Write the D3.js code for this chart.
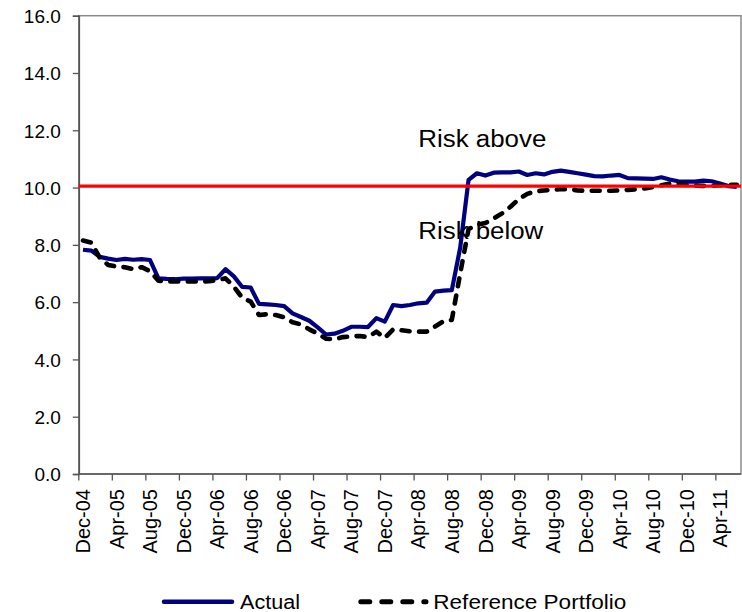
<!DOCTYPE html>
<html>
<head>
<meta charset="utf-8">
<script src="https://cdn.jsdelivr.net/npm/d3@7/dist/d3.min.js"></script>
<style>
  html, body { margin: 0; padding: 0; background: #fff; }
  svg { display: block; }
  text { font-family: "Liberation Sans", Arial, sans-serif; fill: #000; }
</style>
</head>
<body>
<svg id="chart" width="742" height="612"></svg>
<script>
// ---- data ----
const months = [
  "Dec-04","Jan-05","Feb-05","Mar-05","Apr-05","May-05","Jun-05","Jul-05","Aug-05","Sep-05","Oct-05","Nov-05",
  "Dec-05","Jan-06","Feb-06","Mar-06","Apr-06","May-06","Jun-06","Jul-06","Aug-06","Sep-06","Oct-06","Nov-06",
  "Dec-06","Jan-07","Feb-07","Mar-07","Apr-07","May-07","Jun-07","Jul-07","Aug-07","Sep-07","Oct-07","Nov-07",
  "Dec-07","Jan-08","Feb-08","Mar-08","Apr-08","May-08","Jun-08","Jul-08","Aug-08","Sep-08","Oct-08","Nov-08",
  "Dec-08","Jan-09","Feb-09","Mar-09","Apr-09","May-09","Jun-09","Jul-09","Aug-09","Sep-09","Oct-09","Nov-09",
  "Dec-09","Jan-10","Feb-10","Mar-10","Apr-10","May-10","Jun-10","Jul-10","Aug-10","Sep-10","Oct-10","Nov-10",
  "Dec-10","Jan-11","Feb-11","Mar-11","Apr-11","May-11","Jun-11"
];
const actual = [
  7.83, 7.80, 7.58, 7.52, 7.47, 7.51, 7.48, 7.50, 7.47, 6.83, 6.81, 6.80,
  6.82, 6.82, 6.83, 6.83, 6.84, 7.15, 6.90, 6.53, 6.51, 5.94, 5.92, 5.90,
  5.86, 5.61, 5.48, 5.35, 5.12, 4.87, 4.90, 5.00, 5.14, 5.14, 5.13, 5.44,
  5.32, 5.90, 5.86, 5.90, 5.96, 5.98, 6.37, 6.40, 6.42, 7.90, 10.27, 10.50,
  10.42, 10.52, 10.53, 10.53, 10.56, 10.44, 10.50, 10.46, 10.55, 10.59, 10.55, 10.50,
  10.45, 10.40, 10.39, 10.42, 10.44, 10.33, 10.32, 10.31, 10.30, 10.36, 10.28, 10.22,
  10.21, 10.21, 10.24, 10.22, 10.14, 10.05, 10.02
];
const reference = [
  8.15, 8.08, 7.55, 7.30, 7.24, 7.22, 7.15, 7.22, 7.08, 6.75, 6.72, 6.72,
  6.72, 6.72, 6.72, 6.73, 6.77, 6.83, 6.54, 6.15, 6.02, 5.55, 5.58, 5.55,
  5.47, 5.30, 5.22, 5.05, 4.90, 4.72, 4.70, 4.78, 4.80, 4.82, 4.78, 4.97,
  4.75, 5.05, 5.02, 4.98, 4.97, 4.97, 5.15, 5.33, 5.38, 7.00, 8.55, 8.70,
  8.76, 8.92, 9.10, 9.33, 9.60, 9.78, 9.87, 9.90, 9.92, 9.94, 9.95, 9.90,
  9.89, 9.89, 9.89, 9.89, 9.90, 9.92, 9.94, 9.97, 10.02, 10.08, 10.14, 10.12,
  10.09, 10.07, 10.06, 10.06, 10.08, 10.10, 10.10
];
const threshold = 10.05;
const tickLabels = ["Dec-04","Apr-05","Aug-05","Dec-05","Apr-06","Aug-06","Dec-06","Apr-07","Aug-07","Dec-07",
  "Apr-08","Aug-08","Dec-08","Apr-09","Aug-09","Dec-09","Apr-10","Aug-10","Dec-10","Apr-11"];
const yTicks = [0, 2, 4, 6, 8, 10, 12, 14, 16];
const seriesNames = ["Actual", "Reference Portfolio"];
const annotations = ["Risk above", "Risk below"];

(function () {
// ---- layout ----
const svg = d3.select("#chart");
const pLeft = 78.8, pRight = 741, pTop = 15.7, pBottom = 474;

const x = d3.scaleBand().domain(months).range([pLeft, pRight]).paddingInner(0).paddingOuter(0);
const cx = d => x(d) + x.bandwidth() / 2;
const y = d3.scaleLinear().domain([0, 16]).range([pBottom, pTop]);

// plot border
svg.append("rect")
  .attr("x", pLeft).attr("y", pTop)
  .attr("width", pRight - pLeft).attr("height", pBottom - pTop)
  .attr("fill", "none").attr("stroke", "#8a8a8a").attr("stroke-width", 1.5);

// y axis
const yAxis = d3.axisLeft(y).tickValues(yTicks).tickFormat(d3.format(".1f")).tickSize(6).tickPadding(12);
const gy = svg.append("g").attr("transform", `translate(${pLeft},0)`).call(yAxis);
gy.select(".domain").attr("stroke", "#555").attr("stroke-width", 1.6);
gy.selectAll(".tick line").attr("stroke", "#555").attr("stroke-width", 1.3);
gy.selectAll(".tick text")
  .attr("font-size", 19).attr("font-family", '"Liberation Sans", Arial, sans-serif')
  .attr("fill", "#000").attr("dy", "0.36em");

// x axis: ticks at band starts for labelled months
const gx = svg.append("g").attr("class", "xaxis");
gx.append("line")
  .attr("x1", pLeft).attr("x2", pRight).attr("y1", pBottom).attr("y2", pBottom)
  .attr("stroke", "#555").attr("stroke-width", 1.6);
gx.selectAll("line.tk").data(tickLabels).join("line")
  .attr("class", "tk")
  .attr("x1", d => x(d)).attr("x2", d => x(d))
  .attr("y1", pBottom).attr("y2", pBottom + 6.5)
  .attr("stroke", "#555").attr("stroke-width", 1.3);
gx.selectAll("text").data(tickLabels).join("text")
  .attr("transform", d => `translate(${cx(d)},${pBottom + 15}) rotate(-90)`)
  .attr("text-anchor", "end")
  .attr("dy", "0.36em")
  .attr("font-size", 20)
  .text(d => d);

// lines
const line = d3.line().x((d, i) => cx(months[i])).y(d => y(d));

svg.append("path").datum(actual)
  .attr("d", line)
  .attr("fill", "none").attr("stroke", "#000080").attr("stroke-width", 4.2)
  .attr("stroke-linejoin", "round");

svg.append("path").datum(reference)
  .attr("d", line)
  .attr("fill", "none").attr("stroke", "#000").attr("stroke-width", 4.6)
  .attr("stroke-dasharray", "8,9.5").attr("stroke-linecap", "round")
  .attr("stroke-linejoin", "round");

// threshold line
svg.append("line")
  .attr("x1", pLeft).attr("x2", pRight)
  .attr("y1", y(threshold)).attr("y2", y(threshold))
  .attr("stroke", "#ff0000").attr("stroke-width", 3.2);

// annotations
svg.append("text").attr("x", 418.3).attr("y", 147.3)
  .attr("font-size", 23).attr("textLength", 128).attr("lengthAdjust", "spacingAndGlyphs")
  .text(annotations[0]);
svg.append("text").attr("x", 418.3).attr("y", 239.3)
  .attr("font-size", 23).attr("textLength", 125).attr("lengthAdjust", "spacingAndGlyphs")
  .text(annotations[1]);

// legend
const lg = svg.append("g");
lg.append("line").attr("x1", 164).attr("x2", 232).attr("y1", 601.7).attr("y2", 601.7)
  .attr("stroke", "#000080").attr("stroke-width", 4.5).attr("stroke-linecap", "round");
lg.append("text").attr("x", 240).attr("y", 609.3).attr("font-size", 20)
  .attr("textLength", 60).attr("lengthAdjust", "spacingAndGlyphs").text(seriesNames[0]);
lg.append("line").attr("x1", 360.8).attr("x2", 426).attr("y1", 601.7).attr("y2", 601.7)
  .attr("stroke", "#000").attr("stroke-width", 5)
  .attr("stroke-dasharray", "9,12").attr("stroke-linecap", "round");
lg.append("text").attr("x", 433.3).attr("y", 609.3).attr("font-size", 20)
  .attr("textLength", 193).attr("lengthAdjust", "spacingAndGlyphs").text(seriesNames[1]);
})();
</script>
</body>
</html>
